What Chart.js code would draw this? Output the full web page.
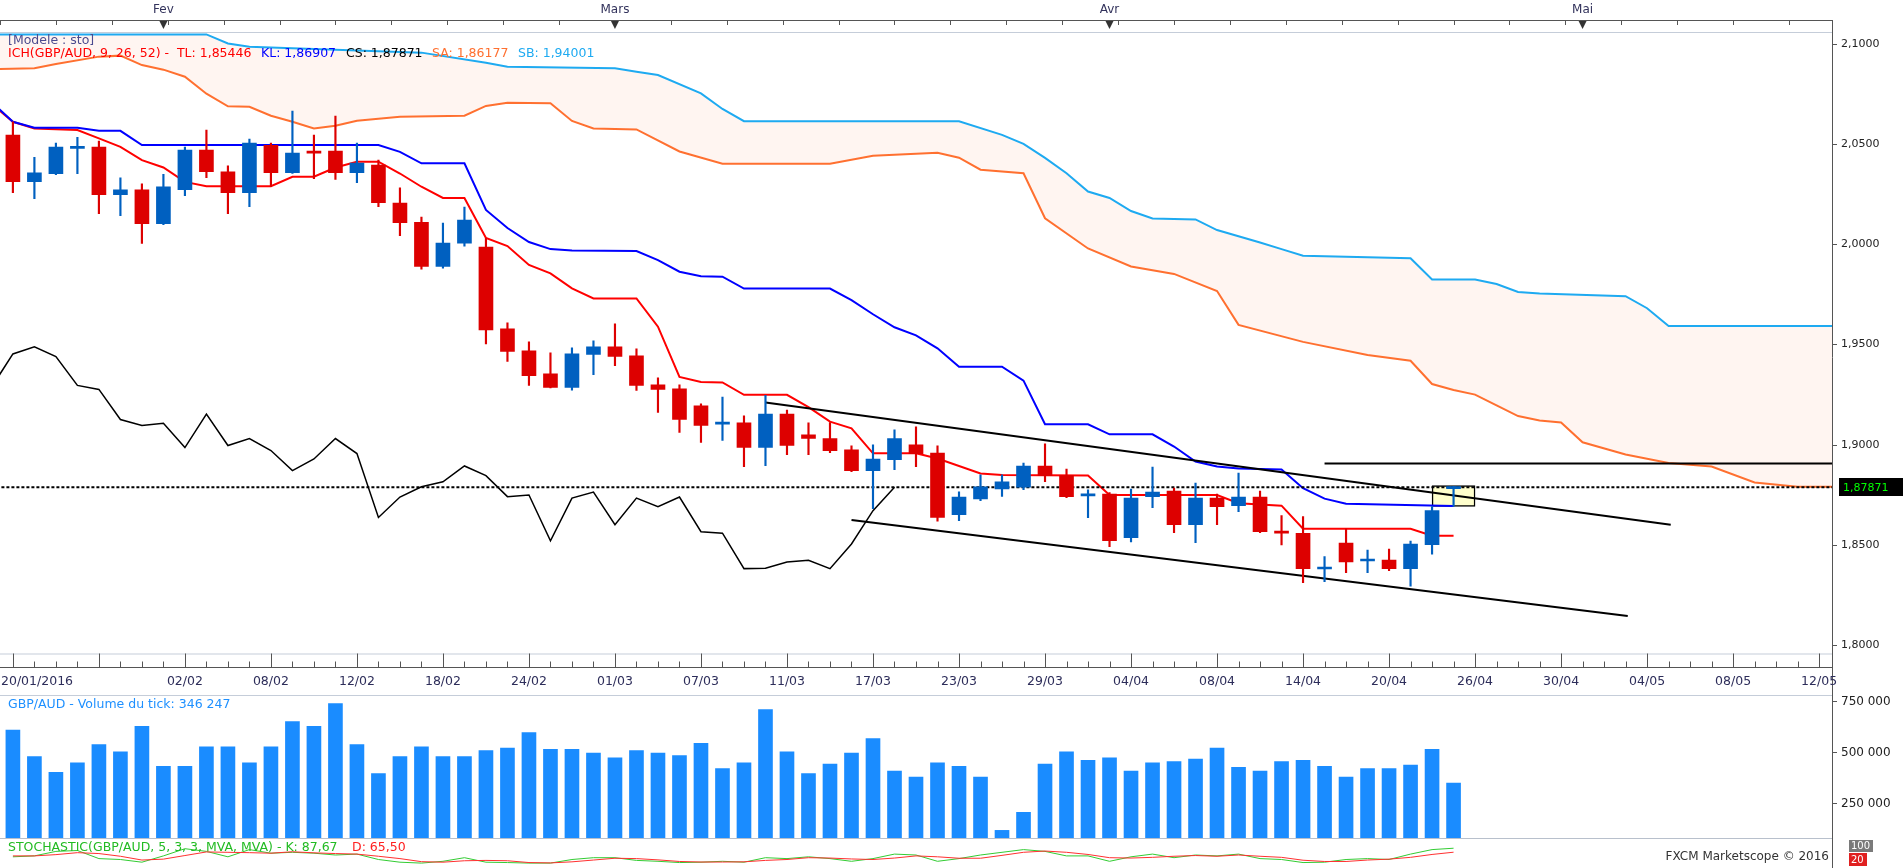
<!DOCTYPE html>
<html lang="fr">
<head>
    <meta charset="UTF-8">
    <title>GBP/AUD - Ichimoku</title>
    <script src="https://cdn.jsdelivr.net/npm/chart.js"></script>
    <style>
        html, body { margin: 0; padding: 0; background: #fff; overflow: hidden; }
        canvas { position: absolute; left: 0; }
        #main { top: 0; }
        #vol { top: 695px; }
        #stoch { top: 838px; }
    </style>
</head>
<body>
    <canvas id="main" width="1903" height="695"></canvas>
    <canvas id="vol" width="1903" height="143"></canvas>
    <canvas id="stoch" width="1903" height="30"></canvas>

    <script>
        // Trading days shown (candle n sits at x = n, 20/01 would be x = 0)
        const dates = [
            '21/01','22/01','25/01','26/01','27/01','28/01','29/01',
            '01/02','02/02','03/02','04/02','05/02','08/02','09/02','10/02','11/02','12/02',
            '15/02','16/02','17/02','18/02','19/02','22/02','23/02','24/02','25/02','26/02','29/02',
            '01/03','02/03','03/03','04/03','07/03','08/03','09/03','10/03','11/03','14/03','15/03',
            '16/03','17/03','18/03','21/03','22/03','23/03','24/03','25/03','28/03','29/03','30/03','31/03',
            '01/04','04/04','05/04','06/04','07/04','08/04','11/04','12/04','13/04','14/04','15/04',
            '18/04','19/04','20/04','21/04','22/04','25/04'
        ];

        const opens = [2.0544,2.0311,2.0351,2.0477,2.0484,2.0247,2.0270,2.0102,2.0272,2.0469,
            2.0360,2.0257,2.0492,2.0356,2.0458,2.0464,2.0356,2.0394,2.0205,2.0108,
            1.9888,2.0005,1.9985,1.9577,1.9467,1.9353,1.9285,1.9449,1.9487,1.9443,
            1.9298,1.9278,1.9193,1.9102,1.9108,1.8985,1.9152,1.9048,1.9030,1.8973,
            1.8870,1.8925,1.8998,1.8958,1.8650,1.8729,1.8779,1.8787,1.8893,1.8845,
            1.8744,1.8753,1.8535,1.8740,1.8768,1.8600,1.8733,1.8695,1.8738,1.8566,
            1.8557,1.8379,1.8509,1.8419,1.8424,1.8381,1.8501,1.8780];
        const highs = [2.0610,2.0433,2.0504,2.0532,2.0514,2.0330,2.0300,2.0348,2.0484,2.0569,
            2.0390,2.0524,2.0504,2.0664,2.0544,2.0639,2.0504,2.0419,2.0280,2.0135,
            2.0105,2.0185,2.0030,1.9607,1.9512,1.9457,1.9482,1.9517,1.9602,1.9477,
            1.9333,1.9298,1.9203,1.9237,1.9143,1.9245,1.9172,1.9108,1.9109,1.8993,
            1.8998,1.9073,1.9088,1.8993,1.8764,1.8849,1.8849,1.8908,1.9003,1.8878,
            1.8774,1.8760,1.8778,1.8888,1.8783,1.8808,1.8753,1.8858,1.8768,1.8645,
            1.8640,1.8441,1.8580,1.8474,1.8479,1.8519,1.8691,1.8791];
        const lows = [2.0257,2.0227,2.0346,2.0351,2.0152,2.0142,2.0003,2.0097,2.0242,2.0331,
            2.0152,2.0187,2.0287,2.0352,2.0326,2.0323,2.0306,2.0187,2.0042,1.9875,
            1.9880,1.9990,1.9502,1.9414,1.9295,1.9282,1.9271,1.9349,1.9394,1.9270,
            1.9160,1.9060,1.9011,1.9020,1.8890,1.8895,1.8950,1.8950,1.8960,1.8865,
            1.8680,1.8875,1.8890,1.8618,1.8620,1.8720,1.8741,1.8775,1.8815,1.8735,
            1.8635,1.8491,1.8514,1.8685,1.8560,1.8511,1.8600,1.8665,1.8560,1.8499,
            1.8311,1.8316,1.8361,1.8361,1.8371,1.8294,1.8453,1.8691];
        const closes = [2.0311,2.0355,2.0484,2.0481,2.0247,2.0270,2.0102,2.0285,2.0469,2.0361,
            2.0257,2.0504,2.0356,2.0454,2.0454,2.0356,2.0404,2.0207,2.0107,1.9888,
            2.0005,2.0120,1.9572,1.9464,1.9344,1.9285,1.9452,1.9487,1.9439,1.9295,
            1.9275,1.9125,1.9095,1.9106,1.8985,1.9152,1.8995,1.9030,1.8970,1.8870,
            1.8928,1.9030,1.8955,1.8636,1.8738,1.8789,1.8814,1.8893,1.8845,1.8740,
            1.8748,1.8520,1.8733,1.8763,1.8600,1.8733,1.8690,1.8738,1.8565,1.8558,
            1.8381,1.8383,1.8414,1.8423,1.8381,1.8504,1.8670,1.87871];

        const volumes = [607000,476000,399000,446000,536000,500000,625000,428000,428000,524000,
            524000,446000,524000,649000,625000,738000,536000,393000,476000,524000,
            476000,476000,506000,518000,595000,512000,512000,494000,470000,506000,
            494000,482000,542000,417000,446000,708000,500000,393000,440000,494000,
            565000,405000,375000,446000,428000,375000,113000,202000,440000,500000,
            458000,470000,405000,446000,452000,464000,518000,423000,405000,452000,
            458000,428000,375000,417000,417000,434000,512000,346247];

        // Ichimoku lines (x = candle position)
        const tenkanX = [0,1,2,4,5,6,7,8,9,10,13,14,15,16,17,18,19,20,21,22,23,24,25,26,27,28,30,31,32,33,
            34,35,37,38,39,40,41,43,44,46,47,51,52,57,58,60,61,66,67,68];
        const tenkanY = [2.0700,2.0610,2.0577,2.0569,2.0527,2.0485,2.0419,2.0382,2.0310,2.0289,2.0289,2.0336,
            2.0336,2.0382,2.0411,2.0411,2.0352,2.0286,2.0230,2.0230,2.0030,1.9990,1.9896,1.9854,1.9779,
            1.9729,1.9729,1.9588,1.9337,1.9312,1.9310,1.9248,1.9248,1.9187,1.9114,1.9081,1.8956,1.8956,
            1.8930,1.8856,1.8848,1.8845,1.8748,1.8748,1.8707,1.8695,1.8580,1.8580,1.8545,1.8545];

        const kijunX = [0,1,2,4,5,6,7,18,19,20,22,23,24,25,26,27,30,31,32,33,34,35,39,40,41,42,43,44,45,47,
            48,49,51,52,54,55,56,57,58,60,61,62,63,68];
        const kijunY = [2.0710,2.0610,2.0580,2.0580,2.0565,2.0565,2.0494,2.0494,2.0460,2.0403,2.0403,2.0170,
            2.0080,2.0010,1.9975,1.9968,1.9965,1.9920,1.9862,1.9840,1.9837,1.9778,1.9778,1.9720,1.9650,
            1.9585,1.9545,1.9480,1.9388,1.9388,1.9319,1.9101,1.9101,1.9051,1.9051,1.8990,1.8915,1.8890,
            1.8880,1.8876,1.8782,1.8730,1.8705,1.8693];

        const spanAX = [0,2,3,5,6,7,8,9,10,11,12,13,14,15,16,17,19,22,23,24,26,27,28,30,32,34,39,41,44,45,
            46,48,49,51,53,55,57,58,61,64,66,67,68,69,70,71,72,73,74,76,78,80,82,84,86];
        const spanAY = [2.0872,2.0877,2.0898,2.0935,2.0940,2.0893,2.0870,2.0835,2.0750,2.0687,2.0685,2.0640,
            2.0610,2.0577,2.0590,2.0615,2.0635,2.0640,2.0689,2.0705,2.0702,2.0614,2.0577,2.0572,2.0462,
            2.0401,2.0401,2.0440,2.0456,2.0431,2.0371,2.0353,2.0129,1.9978,1.9888,1.9851,1.9766,1.9597,
            1.9512,1.9447,1.9418,1.9302,1.9272,1.9249,1.9195,1.9142,1.9120,1.9110,1.9011,1.8950,1.8908,
            1.8890,1.8811,1.8790,1.8790];

        const spanBX = [0,10,11,12,20,23,24,29,30,31,33,34,35,45,47,48,49,50,51,52,53,54,56,57,59,60,61,66,
            67,69,70,71,72,76,77,78,86];
        const spanBY = [2.1046,2.1046,2.1001,2.0984,2.0955,2.0905,2.0885,2.0877,2.0860,2.0843,2.0752,2.0674,
            2.0613,2.0613,2.0545,2.0500,2.0430,2.0353,2.0262,2.0230,2.0165,2.0128,2.0123,2.0070,2.0008,
            1.9975,1.9942,1.9929,1.9823,1.9823,1.9801,1.9761,1.9753,1.9740,1.9680,1.9591,1.9591];

        // Chikou span, x = 0 .. 42
        const chikou = [1.9285,1.9452,1.9487,1.9439,1.9295,1.9275,1.9125,1.9095,1.9106,1.8985,
            1.9152,1.8995,1.9030,1.8970,1.8870,1.8928,1.9030,1.8955,1.8636,1.8738,
            1.8789,1.8814,1.8893,1.8845,1.8740,1.8748,1.8520,1.8733,1.8763,1.8600,
            1.8733,1.8690,1.8738,1.8565,1.8558,1.8381,1.8383,1.8414,1.8423,1.8381,
            1.8504,1.8670,1.87871];

        // hand drawn objects
        const upperTrendX = [36.0, 78.1], upperTrendY = [1.9210, 1.8600];
        const lowerTrendX = [40.0, 76.1], lowerTrendY = [1.8623, 1.8145];
        const resistX = [62.0, 86], resistY = [1.8906, 1.8906];
        const lastPrice = 1.87871;
        const boxIdx = 68, boxRange = [1.8691, 1.8795];

        // stochastic (5,3,3)
        const stochK = [40,45,70,75,30,25,10,45,85,70,40,80,60,65,60,50,55,25,10,5,
            15,35,10,8,5,5,25,35,35,20,15,8,10,15,10,35,30,40,30,15,
            30,55,50,15,30,50,65,80,70,45,45,15,40,55,35,50,45,55,30,25,
            8,10,25,30,25,55,80,87.67];
        const stochD = [45,45,52,63,58,43,22,27,47,67,65,63,60,68,62,58,55,43,30,13,
            10,18,20,18,8,6,12,22,32,30,23,14,11,11,12,20,25,35,33,28,
            25,33,45,40,32,32,48,65,72,65,53,35,33,37,43,47,43,50,43,37,
            21,14,14,22,27,37,53,65.5];

        // axis labels
        const months = ['Fev', 'Mars', 'Avr', 'Mai'];
        const monthIdx = [8, 29, 52, 74];
        const bottomLabels = ['20/01/2016','02/02','08/02','12/02','18/02','24/02','01/03','07/03','11/03',
            '17/03','23/03','29/03','04/04','08/04','14/04','20/04','26/04','30/04','04/05','08/05','12/05'];
        const bottomLabelIdx = [0,9,13,17,21,25,29,33,37,41,45,49,53,57,61,65,69,73,77,81,85];
        const priceTicks = [2.1, 2.05, 2.0, 1.95, 1.9, 1.85, 1.8];
        const volTicks = [750000, 500000, 250000];

        // look
        const RED = '#dd0000', BLUE = '#0060c0';
        const TL_COL = '#ff0000', KL_COL = '#0000ff', SA_COL = '#ff7030', SB_COL = '#1eaaf1';
        const CLOUD = '#fff5f1', VOL_COL = '#1a8cff';
        const X_MIN = 0.4, X_MAX = 85.6, PAD_RIGHT = 71;
        const FONT = '11px "DejaVu Sans"';
        const FONT_TXT = '12.5px "DejaVu Sans"';

        const candleX = dates.map((d, i) => i + 1);
        const candleCol = closes.map((c, i) => c >= opens[i] ? BLUE : RED);
        const pts = (xs, ys) => xs.map((x, i) => ({ x: x, y: ys[i] }));

        function line(c, x1, y1, x2, y2) {
            c.beginPath(); c.moveTo(x1, y1); c.lineTo(x2, y2); c.stroke();
        }
        function fmtPrice(v) { return v.toFixed(4).replace('.', ','); }
        function fmtVol(v) { return String(v).replace(/\B(?=(\d{3})+(?!\d))/g, ' '); }

        const whiteBg = {
            id: 'whiteBg',
            beforeDraw(chart) {
                const c = chart.ctx;
                c.save(); c.fillStyle = '#ffffff'; c.fillRect(0, 0, chart.width, chart.height); c.restore();
            }
        };

        const mainDecor = {
            id: 'mainDecor',
            afterDraw(chart) {
                const c = chart.ctx, a = chart.chartArea, sx = chart.scales.x, sy = chart.scales.y;
                c.save();
                c.lineWidth = 1;

                // top month bar
                c.strokeStyle = '#555';
                line(c, 0, 20.5, a.right, 20.5);
                for (let t = X_MIN; t < X_MAX; t += 2.6) {
                    const x = Math.round(sx.getPixelForValue(t)) + 0.5;
                    line(c, x, 20.5, x, 25);
                }
                c.fillStyle = '#333';
                monthIdx.forEach(m => {
                    const x = sx.getPixelForValue(m);
                    c.beginPath(); c.moveTo(x - 4, 21); c.lineTo(x + 4, 21); c.lineTo(x, 29); c.closePath(); c.fill();
                });
                c.font = '12px "DejaVu Sans"';
                c.fillStyle = '#33335c';
                c.textAlign = 'center'; c.textBaseline = 'middle';
                monthIdx.forEach((m, i) => c.fillText(months[i], sx.getPixelForValue(m), 10));

                // plot frame
                c.strokeStyle = '#c5cdd9';
                line(c, 0, a.top + 0.5, a.right, a.top + 0.5);
                line(c, 0, a.bottom + 0.5, a.right, a.bottom + 0.5);
                c.strokeStyle = '#555';
                line(c, a.right + 0.5, 20, a.right + 0.5, chart.height);

                // price axis
                c.font = FONT; c.fillStyle = '#222'; c.textAlign = 'left';
                priceTicks.forEach(v => {
                    const y = Math.round(sy.getPixelForValue(v)) + 0.5;
                    line(c, a.right, y, a.right + 5, y);
                    c.fillText(fmtPrice(v), a.right + 9, y);
                });

                // date axis
                const base = 667.5;
                c.strokeStyle = '#555';
                line(c, 0, base, a.right, base);
                for (let i = 1; i < X_MAX; i++) {
                    const x = Math.round(sx.getPixelForValue(i)) + 0.5;
                    const major = (i - 1) % 4 === 0;
                    line(c, x, major ? a.bottom : base - 6, x, base);
                }
                c.font = FONT_TXT;
                c.fillStyle = '#2d2d5a';
                bottomLabels.forEach((t, i) => {
                    if (i === 0) { c.textAlign = 'left'; c.fillText(t, 1, 682); return; }
                    c.textAlign = 'center';
                    c.fillText(t, sx.getPixelForValue(bottomLabelIdx[i]), 682);
                });

                // current price tag
                const yp = sy.getPixelForValue(lastPrice);
                c.font = FONT;
                c.fillStyle = '#000';
                c.fillRect(a.right + 7, Math.round(yp) - 9, 64, 18);
                c.fillStyle = '#00ff00'; c.textAlign = 'left';
                c.fillText('1,87871', a.right + 11, yp + 0.5);

                // legend
                c.font = FONT_TXT;
                c.fillStyle = '#4b4b8f';
                c.fillText('[Modele : sto]', 8, 41);
                const parts = [
                    ['ICH(GBP/AUD, 9, 26, 52) -  TL: 1,85446', TL_COL, 8],
                    ['KL: 1,86907', KL_COL, 261],
                    ['CS: 1,87871', '#000000', 346],
                    ['SA: 1,86177', SA_COL, 432],
                    ['SB: 1,94001', SB_COL, 518]
                ];
                parts.forEach(p => { c.fillStyle = p[1]; c.fillText(p[0], p[2], 54); });
                c.restore();
            }
        };

        const volDecor = {
            id: 'volDecor',
            afterDraw(chart) {
                const c = chart.ctx, a = chart.chartArea, sy = chart.scales.y;
                c.save();
                c.lineWidth = 1;
                c.strokeStyle = '#c5cdd9';
                line(c, 0, 0.5, a.right, 0.5);
                c.strokeStyle = '#555';
                line(c, a.right + 0.5, 0, a.right + 0.5, chart.height);
                c.font = '12px "DejaVu Sans"'; c.textBaseline = 'middle'; c.textAlign = 'left';
                c.fillStyle = '#222';
                volTicks.forEach(v => {
                    const y = Math.round(sy.getPixelForValue(v)) + 0.5;
                    line(c, a.right, y, a.right + 5, y);
                    c.fillText(fmtVol(v), a.right + 9, y);
                });
                c.font = FONT_TXT;
                c.fillStyle = '#1e90ff';
                c.fillText('GBP/AUD - Volume du tick: ' + fmtVol(volumes[volumes.length - 1]), 8, 10);
                c.restore();
            }
        };

        const stochDecor = {
            id: 'stochDecor',
            afterDraw(chart) {
                const c = chart.ctx, a = chart.chartArea;
                c.save();
                c.lineWidth = 1;
                c.strokeStyle = '#b8c0cc';
                line(c, 0, 0.5, a.right, 0.5);
                c.strokeStyle = '#555';
                line(c, a.right + 0.5, 0, a.right + 0.5, chart.height);
                c.font = FONT_TXT; c.textBaseline = 'middle'; c.textAlign = 'left';
                c.fillStyle = '#22bb22';
                c.fillText('STOCHASTIC(GBP/AUD, 5, 3, 3, MVA, MVA) - K: 87,67', 8, 10);
                c.fillStyle = '#ff2020';
                c.fillText('D: 65,50', 352, 10);
                c.fillStyle = '#7a7a7a'; c.fillRect(a.right + 17, 2, 24, 12);
                c.fillStyle = '#e02020'; c.fillRect(a.right + 17, 15, 18, 13);
                c.font = '10px "DejaVu Sans"'; c.fillStyle = '#ffffff';
                c.fillText('100', a.right + 19, 8.5);
                c.fillText('20', a.right + 19, 22);
                c.font = '12px "DejaVu Sans"'; c.fillStyle = '#333'; c.textAlign = 'right';
                c.fillText('FXCM Marketscope \u00a9 2016', a.right - 3, 19);
                c.restore();
            }
        };

        const xScale = { type: 'linear', min: X_MIN, max: X_MAX, offset: false, display: false };
        const baseOptions = {
            responsive: false,
            maintainAspectRatio: false,
            animation: false,
            events: [],
            plugins: { legend: { display: false }, tooltip: { enabled: false } }
        };

        // price panel
        new Chart(document.getElementById('main').getContext('2d'), {
            type: 'bar',
            data: {
                datasets: [
                    { type: 'bar', data: [{ x: boxIdx, y: boxRange }], backgroundColor: '#ffffcc',
                      borderColor: '#000', borderWidth: 1.5, borderSkipped: false, barThickness: 43,
                      grouped: false, order: 20 },
                    { type: 'line', data: pts(spanBX, spanBY), borderColor: SB_COL, borderWidth: 2,
                      pointRadius: 0, fill: false, order: 9 },
                    { type: 'line', data: pts(spanAX, spanAY), borderColor: SA_COL, borderWidth: 2,
                      pointRadius: 0, fill: { target: 1 }, backgroundColor: CLOUD, order: 9 },
                    { type: 'line', data: pts(kijunX, kijunY), borderColor: KL_COL, borderWidth: 2,
                      pointRadius: 0, fill: false, order: 8 },
                    { type: 'line', data: pts(tenkanX, tenkanY), borderColor: TL_COL, borderWidth: 2,
                      pointRadius: 0, fill: false, order: 8 },
                    { type: 'line', data: chikou.map((v, i) => ({ x: i, y: v })), borderColor: '#000',
                      borderWidth: 1.5, pointRadius: 0, fill: false, order: 8 },
                    { type: 'line', data: pts(upperTrendX, upperTrendY), borderColor: '#000', borderWidth: 2,
                      pointRadius: 0, fill: false, order: 7 },
                    { type: 'line', data: pts(lowerTrendX, lowerTrendY), borderColor: '#000', borderWidth: 2,
                      pointRadius: 0, fill: false, order: 7 },
                    { type: 'line', data: pts(resistX, resistY), borderColor: '#000', borderWidth: 2,
                      pointRadius: 0, fill: false, order: 7 },
                    { type: 'line', data: [{ x: 0, y: lastPrice }, { x: 86, y: lastPrice }], borderColor: '#000',
                      borderWidth: 2, borderDash: [3, 2], pointRadius: 0, fill: false, order: 7 },
                    { type: 'bar', data: candleX.map((x, i) => ({ x: x, y: [lows[i], highs[i]] })),
                      backgroundColor: candleCol, barThickness: 1.5, grouped: false, order: 2 },
                    { type: 'bar', data: candleX.map((x, i) => ({ x: x, y: [opens[i], closes[i]] })),
                      backgroundColor: candleCol, barThickness: 14, minBarLength: 2, grouped: false, order: 1 }
                ]
            },
            options: Object.assign({}, baseOptions, {
                layout: { padding: { left: 0, right: PAD_RIGHT, top: 32, bottom: 41.5 } },
                scales: { x: xScale, y: { type: 'linear', min: 1.79576, max: 2.10579, display: false } },
                plugins: Object.assign({}, baseOptions.plugins, { filler: { drawTime: 'beforeDatasetsDraw' } })
            }),
            plugins: [whiteBg, mainDecor]
        });

        // volume panel
        new Chart(document.getElementById('vol').getContext('2d'), {
            type: 'bar',
            data: {
                datasets: [{
                    data: candleX.map((x, i) => ({ x: x, y: volumes[i] })),
                    backgroundColor: VOL_COL, barThickness: 14, grouped: false
                }]
            },
            options: Object.assign({}, baseOptions, {
                layout: { padding: { left: 0, right: PAD_RIGHT, top: 0, bottom: 0 } },
                scales: { x: xScale, y: { type: 'linear', min: 75400, max: 779800, display: false } }
            }),
            plugins: [whiteBg, volDecor]
        });

        // stochastic strip
        new Chart(document.getElementById('stoch').getContext('2d'), {
            type: 'line',
            data: {
                datasets: [
                    { data: pts(candleX, stochD), borderColor: '#ff3030', borderWidth: 1, pointRadius: 0 },
                    { data: pts(candleX, stochK), borderColor: '#33cc33', borderWidth: 1, pointRadius: 0 }
                ]
            },
            options: Object.assign({}, baseOptions, {
                layout: { padding: { left: 0, right: PAD_RIGHT, top: 8, bottom: 4 } },
                scales: { x: xScale, y: { type: 'linear', min: 0, max: 100, display: false } }
            }),
            plugins: [whiteBg, stochDecor]
        });
    </script>
</body>
</html>
